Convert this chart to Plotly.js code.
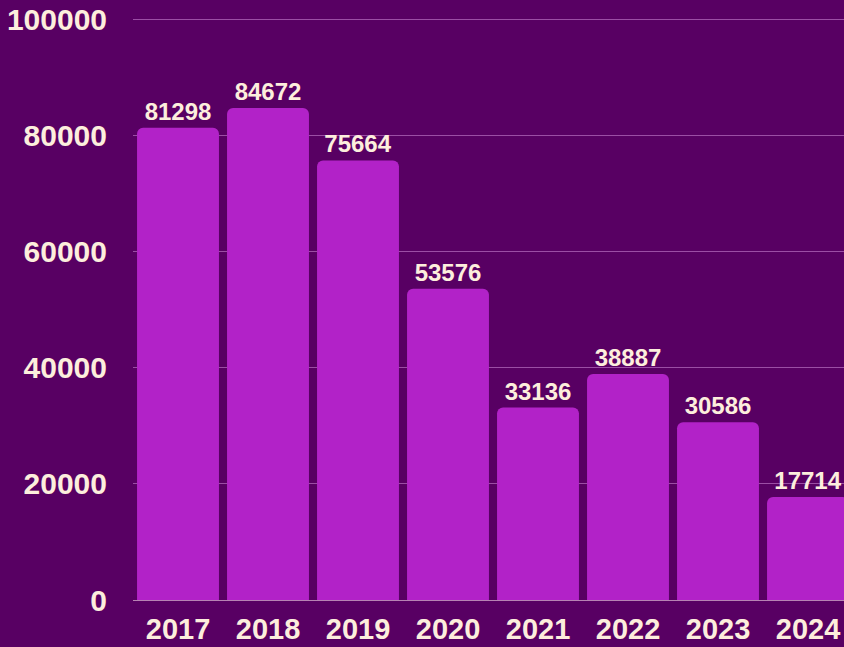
<!DOCTYPE html>
<html>
<head>
<meta charset="utf-8">
<script src="https://cdn.plot.ly/plotly-3.0.1.min.js"></script>
<style>
html,body{margin:0;padding:0;background:#580063;overflow:hidden;}
#chart{width:844px;height:647px;}
</style>
</head>
<body>
<div id="chart"></div>
<script>
const years = ['2017','2018','2019','2020','2021','2022','2023','2024'];
const counts = [81298, 84672, 75664, 53576, 33136, 38887, 30586, 17714];
const yTicks = [0, 20000, 40000, 60000, 80000, 100000];

const textColor = '#fdeedd';

const trace = {
  type: 'bar',
  x: years,
  y: counts,
  text: counts.map(String),
  textposition: 'outside',
  cliponaxis: false,
  constraintext: 'none',
  textfont: {family: 'Liberation Sans, Arial, sans-serif', size: 24, color: textColor, weight: 'bold'},
  marker: {color: '#b222c8', cornerradius: 6},
  hoverinfo: 'none'
};

const layout = {
  width: 844,
  height: 647,
  margin: {l: 133, r: 0, t: 15, b: 47, pad: 0},
  paper_bgcolor: '#580063',
  plot_bgcolor: '#580063',
  bargap: 0.09,
  showlegend: false,
  font: {family: 'Liberation Sans, Arial, sans-serif', color: textColor},
  xaxis: {
    type: 'category',
    range: [-0.5, 7.4],
    showgrid: false,
    zeroline: false,
    showline: false,
    ticks: '',
    ticklabelstandoff: 9,
    tickfont: {size: 29, color: textColor, weight: 'bold'},
    fixedrange: true
  },
  yaxis: {
    range: [0, 100700],
    tickvals: yTicks,
    ticktext: yTicks.map(String),
    showgrid: true,
    gridcolor: 'rgba(200,130,210,0.6)',
    gridwidth: 1,
    zeroline: true,
    zerolinecolor: 'rgba(215,175,205,0.75)',
    zerolinewidth: 1,
    showline: false,
    ticks: '',
    ticklabelstandoff: 25,
    tickfont: {size: 30, color: textColor, weight: 'bold'},
    fixedrange: true
  }
};

Plotly.newPlot('chart', [trace], layout, {displayModeBar: false, staticPlot: true});
</script>
</body>
</html>
